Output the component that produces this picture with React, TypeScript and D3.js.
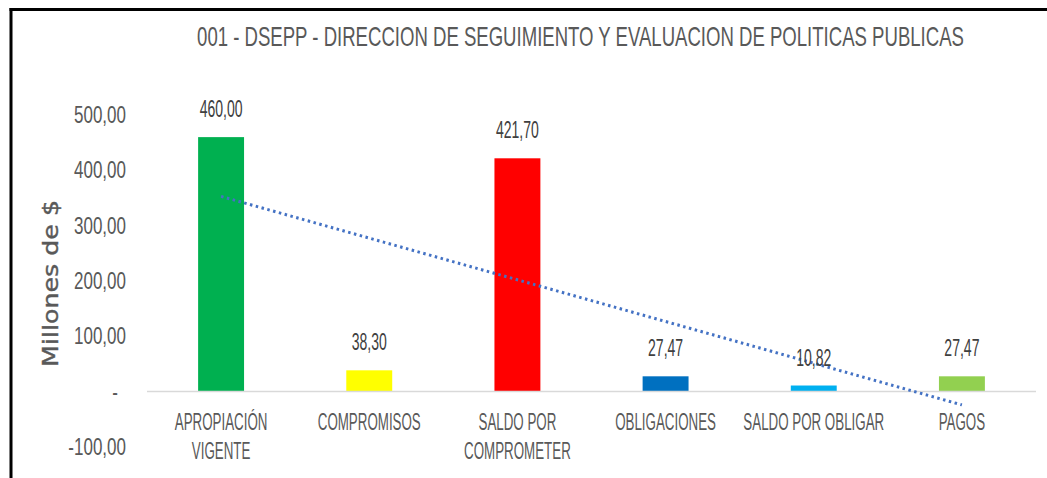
import React, { useLayoutEffect, useRef, useState } from "react";
import * as d3 from "d3";

const TITLE = "001 - DSEPP - DIRECCION DE SEGUIMIENTO Y EVALUACION DE POLITICAS PUBLICAS";
const Y_TITLE = "Millones de $";
const categories = [
  "APROPIACIÓN\nVIGENTE",
  "COMPROMISOS",
  "SALDO POR\nCOMPROMETER",
  "OBLIGACIONES",
  "SALDO POR OBLIGAR",
  "PAGOS",
];
const values = [460.0, 38.3, 421.7, 27.47, 10.82, 27.47];
const barColors = ["#00B050", "#FFFF00", "#FF0000", "#0070C0", "#00B0F0", "#92D050"];
const yTicks = [-100, 0, 100, 200, 300, 400, 500];

const W = 1047;
const H = 478;
const FONT = "'Liberation Sans', Arial, sans-serif";

const fmt = (v: number) => {
  if (v === 0) return "-";
  return d3.format(".2f")(v).replace(".", ",").replace("\u2212", "-");
};

function CText(props: {
  x: number;
  y: number;
  sx: number;
  size: number;
  fill: string;
  anchor?: string;
  children: React.ReactNode;
}) {
  const { x, y, sx, size, fill, anchor = "middle", children } = props;
  return (
    <text
      transform={`translate(${x},${y}) scale(${sx},1)`}
      fontFamily={FONT}
      fontSize={size}
      fill={fill}
      textAnchor={anchor}
    >
      {children}
    </text>
  );
}

// text scaled horizontally to a target width, measured after layout
function FitText(props: {
  x: number;
  y: number;
  width: number;
  size: number;
  fill: string;
  rotate?: number;
  family?: string;
  stroke?: string;
  strokeWidth?: number;
  children: string;
}) {
  const ref = useRef<SVGTextElement>(null);
  const [sx, setSx] = useState(0.6);
  useLayoutEffect(() => {
    if (ref.current) {
      const w = ref.current.getComputedTextLength();
      if (w > 0) setSx(props.width / w);
    }
  }, [props.width, props.children]);
  const rot = props.rotate ? ` rotate(${props.rotate})` : "";
  return (
    <text
      ref={ref}
      transform={`translate(${props.x},${props.y})${rot} scale(${sx},1)`}
      textAnchor="middle"
      fontFamily={props.family || FONT}
      fontSize={props.size}
      fill={props.fill}
      stroke={props.stroke}
      strokeWidth={props.strokeWidth}
    >
      {props.children}
    </text>
  );
}

export default function App() {
  const x = d3.scaleBand<string>().domain(categories).range([147, 1036]).padding(0);
  const y = d3.scaleLinear().domain([-100, 500]).range([446.8, 115]);
  const barW = x.bandwidth() * 0.31;
  const cx = (c: string) => (x(c) as number) + x.bandwidth() / 2;

  // linear trendline (least squares over category index 1..n)
  const n = values.length;
  const xs = values.map((_, i) => i + 1);
  const mx = d3.mean(xs) as number;
  const my = d3.mean(values) as number;
  const sxy = d3.sum(xs.map((xi, i) => (xi - mx) * (values[i] - my)));
  const sxx = d3.sum(xs.map((xi) => (xi - mx) ** 2));
  const slope = sxy / sxx;
  const icpt = my - slope * mx;
  const trend = xs.map((xi, i) => [cx(categories[i]), y(icpt + slope * xi)] as [number, number]);
  const line = d3.line();

  return (
    <div style={{ position: "fixed", left: 0, top: 0, width: W, height: H, background: "#fff" }}>
      <svg width={W} height={H} style={{ display: "block" }}>
        <rect x={0} y={0} width={W} height={H} fill="#fff" />
        {/* frame */}
        <line x1={9.5} x2={W} y1={9.5} y2={9.5} stroke="#000" strokeWidth={3} />
        <line x1={11} x2={11} y1={8} y2={H} stroke="#000" strokeWidth={3} />

        {/* title */}
        <FitText x={580.5} y={46} width={767} size={27} fill="#595959">
          {TITLE}
        </FitText>

        {/* y axis title */}
        <FitText
          x={58}
          y={283.5}
          rotate={-90}
          width={167}
          size={21}
          family="'DejaVu Sans', Verdana, sans-serif"
          fill="#595959"
          stroke="#595959"
          strokeWidth={0.4}
        >
          {Y_TITLE}
        </FitText>

        {/* y tick labels */}
        {yTicks.map((t) => (
          <CText key={t} x={t === 0 ? 118 : 126} y={y(t) + 8} sx={0.74} size={23} fill="#595959" anchor="end">
            {fmt(t)}
          </CText>
        ))}

        {/* bars */}
        {categories.map((c, i) => (
          <rect
            key={c}
            x={cx(c) - barW / 2}
            y={y(Math.max(0, values[i]))}
            width={barW}
            height={Math.abs(y(values[i]) - y(0))}
            fill={barColors[i]}
          />
        ))}

        {/* baseline */}
        <line x1={147} x2={1036} y1={y(0)} y2={y(0)} stroke="#d9d9d9" strokeWidth={1.5} />

        {/* trendline */}
        <path
          d={line([trend[0], trend[n - 1]]) as string}
          fill="none"
          stroke="#4472C4"
          strokeWidth={3}
          strokeDasharray="2.5 3.5"
        />

        {/* data labels */}
        {categories.map((c, i) => (
          <CText key={c} x={cx(c)} y={y(values[i]) - 20} sx={0.61} size={23} fill="#404040">
            {fmt(values[i])}
          </CText>
        ))}

        {/* category labels */}
        {categories.map((c) =>
          c.split("\n").map((ln, j) => (
            <CText key={c + j} x={cx(c)} y={430 + j * 29} sx={0.58} size={23} fill="#595959">
              {ln}
            </CText>
          ))
        )}
      </svg>
    </div>
  );
}
